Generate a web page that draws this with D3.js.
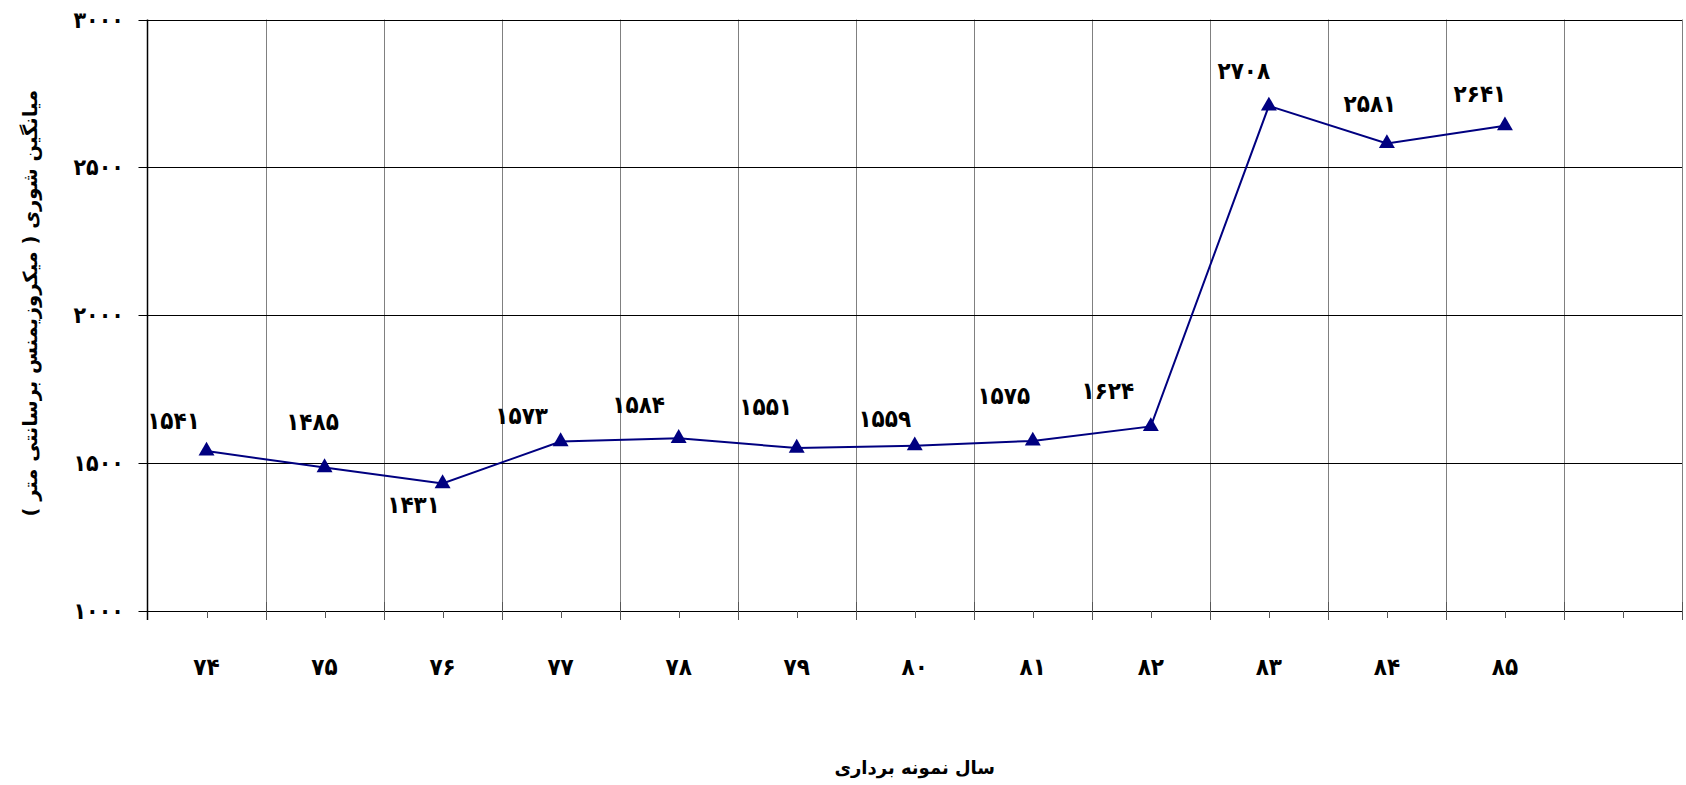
<!DOCTYPE html>
<html lang="fa">
<head>
<meta charset="utf-8">
<script src="https://cdn.jsdelivr.net/npm/d3@7/dist/d3.min.js"></script>
<style>
  html, body { margin: 0; padding: 0; background: #ffffff; }
  svg { display: block; }
  text { font-family: "DejaVu Sans", sans-serif; font-weight: bold; fill: #000; }
  text.num { font-family: "DejaVu Sans Condensed", "DejaVu Sans", sans-serif; }
</style>
</head>
<body>
<svg id="chart" width="1686" height="785"></svg>
<script>
// Sampling years (one empty slot follows the last year on the axis)
const categories = ["74", "75", "76", "77", "78", "79", "80", "81", "82", "83", "84", "85"];
// Mean salinity (µS/cm) per year
const salinity = [1541, 1485, 1431, 1573, 1584, 1551, 1559, 1575, 1624, 2708, 2581, 2641];
// Y axis ticks
const yTicks = [1000, 1500, 2000, 2500, 3000];
// Data label placement relative to each marker [dx, dy]
const labelOffsets = [[-33, -30], [-12, -46], [-29, 21], [-39, -26], [-40, -34], [-31, -41],
                      [-30, -27], [-29, -45], [-43, -36], [-25, -35], [-17, -40], [-25, -32]];

const yTitle = "میانگین شوری ( میکروزیمنس برسانتی متر )";
const xTitle = "سال نمونه برداری";

const faDigits = "۰۱۲۳۴۵۶۷۸۹";
const fa = v => String(v).replace(/\d/g, c => faDigits[+c]);

const svg = d3.select("#chart");
const m = { left: 147.5, right: 1682, top: 19.5, bottom: 611 };

const x = d3.scaleBand()
  .domain([...categories, ""])
  .range([m.left, m.right])
  .paddingInner(0).paddingOuter(0);
const y = d3.scaleLinear().domain([1000, 3000]).range([m.bottom, m.top]);

const g = svg.append("g");

// vertical grid lines at category boundaries
const bounds = x.domain().map(d => x(d)).concat([m.right]);
g.selectAll("line.vgrid").data(bounds.slice(1)).join("line")
  .attr("class", "vgrid")
  .attr("x1", d => Math.round(d) + 0.5).attr("x2", d => Math.round(d) + 0.5)
  .attr("y1", m.top).attr("y2", m.bottom)
  .attr("stroke", "#808080").attr("stroke-width", 1);

// horizontal grid lines
g.selectAll("line.hgrid").data(yTicks).join("line")
  .attr("class", "hgrid")
  .attr("x1", m.left - 9).attr("x2", m.right)
  .attr("y1", d => Math.round(y(d)) + 0.5).attr("y2", d => Math.round(y(d)) + 0.5)
  .attr("stroke", "#000").attr("stroke-width", 1);

// y axis line
g.append("line")
  .attr("x1", m.left).attr("x2", m.left)
  .attr("y1", m.top).attr("y2", m.bottom + 9)
  .attr("stroke", "#000").attr("stroke-width", 1.5);

// x axis major (boundary) and minor (category centre) ticks
g.selectAll("line.xmajor").data(bounds.slice(1)).join("line")
  .attr("class", "xmajor")
  .attr("x1", d => Math.round(d) + 0.5).attr("x2", d => Math.round(d) + 0.5)
  .attr("y1", m.bottom - 9).attr("y2", m.bottom + 9)
  .attr("stroke", "#555").attr("stroke-width", 1);
g.selectAll("line.xminor").data(x.domain()).join("line")
  .attr("class", "xminor")
  .attr("x1", d => Math.round(x(d) + x.bandwidth() / 2) + 0.5)
  .attr("x2", d => Math.round(x(d) + x.bandwidth() / 2) + 0.5)
  .attr("y1", m.bottom).attr("y2", m.bottom + 7)
  .attr("stroke", "#555").attr("stroke-width", 1);

// y tick labels
g.selectAll("text.ytick").data(yTicks).join("text")
  .attr("class", "ytick num")
  .attr("x", 124).attr("y", d => y(d))
  .attr("dy", "0.35em")
  .attr("text-anchor", "end")
  .attr("font-size", 23)
  .text(d => fa(d));

// x tick labels
g.selectAll("text.xtick").data(categories).join("text")
  .attr("class", "xtick num")
  .attr("x", d => x(d) + x.bandwidth() / 2).attr("y", 667)
  .attr("dy", "0.35em")
  .attr("text-anchor", "middle")
  .attr("font-size", 24)
  .text(d => fa(d));

// data line
const pts = categories.map((c, i) => ({ c, v: salinity[i], off: labelOffsets[i] }));
const line = d3.line().x(d => x(d.c) + x.bandwidth() / 2).y(d => y(d.v));
g.append("path").datum(pts)
  .attr("d", line)
  .attr("fill", "none")
  .attr("stroke", "#000080")
  .attr("stroke-width", 2);

// triangle markers
const tri = d3.symbol().type(d3.symbolTriangle).size(110);
g.selectAll("path.mk").data(pts).join("path")
  .attr("class", "mk")
  .attr("d", tri)
  .attr("transform", d => `translate(${x(d.c) + x.bandwidth() / 2},${y(d.v)})`)
  .attr("fill", "#000080");

// data labels
g.selectAll("text.lbl").data(pts).join("text")
  .attr("class", "lbl num")
  .attr("x", d => x(d.c) + x.bandwidth() / 2 + d.off[0])
  .attr("y", d => y(d.v) + d.off[1])
  .attr("dy", "0.35em")
  .attr("text-anchor", "middle")
  .attr("font-size", 24)
  .text(d => fa(d.v));

// axis titles
svg.append("text")
  .attr("transform", `translate(30,${(m.top + m.bottom) / 2 - 12}) rotate(-90)`)
  .attr("text-anchor", "middle")
  .attr("dy", "0.35em")
  .attr("font-size", 19.5)
  .text(yTitle);

svg.append("text")
  .attr("x", (m.left + m.right) / 2).attr("y", 768)
  .attr("text-anchor", "middle")
  .attr("dy", "0.35em")
  .attr("font-size", 18)
  .text(xTitle);
</script>
</body>
</html>
